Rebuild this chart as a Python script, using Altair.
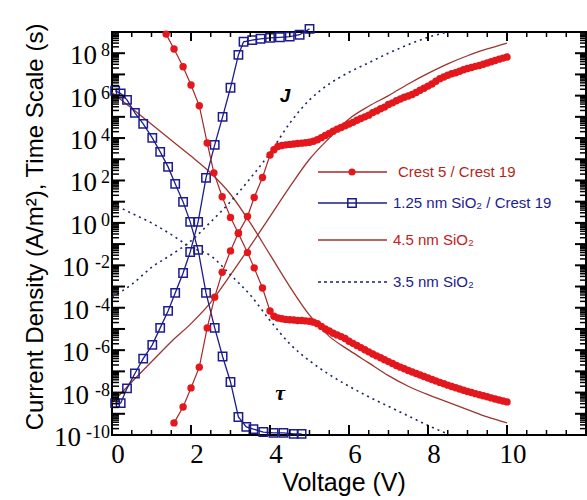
import altair as alt
import pandas as pd

W, H = 474, 403
XDOM = [0, 12]
YDOM = [1e-10, 1e9]

# ---------------- data (log10 values) ----------------
crest_tau_v = [1.37, 1.57, 1.8, 2.0, 2.21, 2.41, 2.58, 2.79, 3.0, 3.2, 3.43, 3.6, 3.81, 4.0,
               4.1, 4.2, 4.3, 4.4, 4.5, 4.6, 4.7, 4.8, 4.9, 5.0, 5.1, 5.2, 5.3, 5.4, 5.5, 5.6,
               5.7, 5.8, 5.9, 6.0, 6.1, 6.2, 6.3, 6.4, 6.5, 6.6, 6.7, 6.8, 6.9, 7.0, 7.1, 7.2,
               7.3, 7.4, 7.5, 7.6, 7.7, 7.8, 7.9, 8.0, 8.1, 8.2, 8.3, 8.4, 8.5, 8.6, 8.7, 8.8,
               8.9, 9.0, 9.1, 9.2, 9.3, 9.4, 9.5, 9.6, 9.7, 9.8, 9.9, 10.0]
crest_tau_log = [8.9, 8.2, 7.36, 6.5, 5.52, 3.77, 2.36, 1.23, 0.26, -0.5, -1.4, -2.12, -3.07, -4.15,
                 -4.4, -4.48, -4.52, -4.55, -4.57, -4.58, -4.6, -4.6, -4.62, -4.64, -4.68, -4.75,
                 -4.88, -5.0, -5.1, -5.2, -5.28, -5.36, -5.45, -5.58, -5.68, -5.78, -5.88, -5.98,
                 -6.08, -6.18, -6.27, -6.36, -6.45, -6.54, -6.63, -6.72, -6.8, -6.88, -6.96, -7.03,
                 -7.1, -7.17, -7.24, -7.31, -7.38, -7.45, -7.52, -7.58, -7.65, -7.71, -7.77, -7.83,
                 -7.89, -7.95, -8.0, -8.05, -8.1, -8.15, -8.2, -8.25, -8.3, -8.35, -8.4, -8.44]

crest_j_v = [1.57, 1.8, 2.0, 2.21, 2.41, 2.6, 2.79, 3.0, 3.2, 3.43, 3.6, 3.81, 4.0,
             4.1, 4.2, 4.3, 4.4, 4.5, 4.6, 4.7, 4.8, 4.9, 5.0, 5.1, 5.2, 5.3, 5.4, 5.5, 5.6,
             5.7, 5.8, 5.9, 6.0, 6.1, 6.2, 6.3, 6.4, 6.5, 6.6, 6.7, 6.8, 6.9, 7.0, 7.1, 7.2,
             7.3, 7.4, 7.5, 7.6, 7.7, 7.8, 7.9, 8.0, 8.1, 8.2, 8.3, 8.4, 8.5, 8.6, 8.7, 8.8,
             8.9, 9.0, 9.1, 9.2, 9.3, 9.4, 9.5, 9.6, 9.7, 9.8, 9.9, 10.0]
crest_j_log = [-9.43, -8.68, -7.78, -6.8, -4.95, -3.5, -2.33, -1.32, -0.47, 0.3, 1.2, 2.14, 3.2,
               3.45, 3.6, 3.65, 3.68, 3.7, 3.72, 3.74, 3.76, 3.78, 3.8, 3.85, 3.92, 4.02, 4.12,
               4.22, 4.32, 4.42, 4.5, 4.58, 4.66, 4.74, 4.84, 4.92, 5.0, 5.08, 5.2, 5.28, 5.38,
               5.46, 5.58, 5.66, 5.76, 5.84, 5.92, 5.98, 6.05, 6.15, 6.25, 6.35, 6.45, 6.55, 6.68,
               6.8, 6.88, 6.96, 7.03, 7.08, 7.15, 7.22, 7.28, 7.33, 7.38, 7.42, 7.48, 7.54, 7.6,
               7.66, 7.72, 7.77, 7.82]

sio125_tau_v = [0.08, 0.22, 0.38, 0.58, 0.79, 1.02, 1.22, 1.42, 1.6, 1.8, 1.98, 2.18, 2.38, 2.6,
                2.8, 3.0, 3.2, 3.4, 3.58, 3.83, 4.09, 4.34, 4.6, 4.8]
sio125_tau_log = [6.23, 6.1, 5.8, 5.19, 4.67, 4.01, 3.35, 2.64, 1.84, 0.99, 0.05, -1.27, -3.3,
                  -4.95, -6.3, -7.5, -9.15, -9.62, -9.72, -9.86, -9.9, -9.9, -9.95, -9.95]

sio125_j_v = [0.08, 0.22, 0.38, 0.58, 0.79, 1.02, 1.22, 1.42, 1.6, 1.8, 1.98, 2.18, 2.38, 2.6,
              2.8, 3.0, 3.2, 3.33, 3.55, 3.76, 4.0, 4.25, 4.5, 4.75, 5.0]
sio125_j_log = [-8.5, -8.5, -7.8, -7.1, -6.4, -5.75, -4.95, -4.15, -3.3, -2.36, -1.37, 0.05, 2.12,
                3.68, 5.0, 6.37, 7.92, 8.54, 8.62, 8.68, 8.72, 8.75, 8.78, 8.87, 9.15]

sio45_v = [0, 0.5, 1.0, 1.5, 2.0, 2.5, 3.0, 3.5, 4.0, 4.5, 5.0, 5.5, 6.0, 6.5, 7.0, 7.5, 8.0,
           8.5, 9.0, 9.5, 10.0]
sio45_tau_log = [6.15, 5.4, 4.65, 3.9, 3.15, 2.35, 1.35, 0.0, -1.5, -3.0, -4.35, -5.35, -6.0,
                 -6.6, -7.2, -7.7, -8.1, -8.45, -8.8, -9.15, -9.43]
sio45_j_log = [-8.5, -7.5, -6.55, -5.6, -4.75, -3.75, -2.45, -1.1, 0.3, 1.7, 3.0, 4.0, 4.9,
               5.5, 6.0, 6.55, 7.05, 7.5, 7.88, 8.2, 8.48]

sio35_v = [0, 0.5, 1.0, 1.5, 2.0, 2.5, 3.0, 3.5, 4.0, 4.5, 5.0, 5.5, 6.0, 6.5, 7.0, 7.5, 8.0, 8.5]
sio35_tau_log = [0.9, 0.45, 0.0, -0.55, -1.15, -1.55, -2.45, -3.4, -4.6, -5.7, -6.5, -7.15,
                 -7.7, -8.2, -8.65, -9.1, -9.55, -9.95]
sio35_j_log = [-3.5, -2.9, -2.1, -1.5, -0.85, 0.05, 1.0, 2.1, 3.3, 4.7, 5.8, 6.55, 7.1, 7.55,
               8.0, 8.4, 8.75, 9.0]

# axis ticks / labels
x_major = [0, 2, 4, 6, 8, 10, 12]
x_minor = [0.5, 1, 1.5, 2.5, 3, 3.5, 4.5, 5, 5.5, 6.5, 7, 7.5, 8.5, 9, 9.5, 10.5, 11, 11.5]
x_labels = [0, 2, 4, 6, 8, 10]
decades = [-10, -9, -8, -7, -6, -5, -4, -3, -2, -1, 0, 1, 2, 3, 4, 5, 6, 7, 8, 9]
minor_mult = [2, 3, 4, 5, 6, 7, 8, 9]
y_label_exp = [-10, -8, -6, -4, -2, 0, 2, 4, 6, 8]

legend_names = ["Crest 5 / Crest 19", "1.25 nm SiO\u2082 / Crest 19", "4.5 nm SiO\u2082", "3.5 nm SiO\u2082"]

# ---------------- tables ----------------
def tab(v, lg, branch):
    return pd.DataFrame({"V": v, "y": [10.0 ** a for a in lg], "branch": branch})

crest = pd.concat([tab(crest_tau_v, crest_tau_log, "tau"), tab(crest_j_v, crest_j_log, "J")])
s125 = pd.concat([tab(sio125_tau_v, sio125_tau_log, "tau"), tab(sio125_j_v, sio125_j_log, "J")])
s45 = pd.concat([tab(sio45_v, sio45_tau_log, "tau"), tab(sio45_v, sio45_j_log, "J")])
s35 = pd.concat([tab(sio35_v, sio35_tau_log, "tau"), tab(sio35_v, sio35_j_log, "J")])

xs = alt.Scale(domain=XDOM, nice=False, zero=False)
ys = alt.Scale(type="log", domain=YDOM, nice=False)
X = alt.X("V:Q", scale=xs, axis=None)
Y = alt.Y("y:Q", scale=ys, axis=None)

RED = "#e3171c"
REDLINE = "#a52828"
BROWN = "#9c3530"
NAVY = "#1c1c8e"
DOT = "#1a2466"

l45 = alt.Chart(s45).mark_line(color=BROWN, strokeWidth=1.3, interpolate="monotone").encode(
    x=X, y=Y, detail="branch:N")
l35 = alt.Chart(s35).mark_line(color=DOT, strokeWidth=1.6, strokeDash=[2, 4],
                               interpolate="monotone").encode(x=X, y=Y, detail="branch:N")
l125 = alt.Chart(s125).mark_line(color=NAVY, strokeWidth=1.3).encode(x=X, y=Y, detail="branch:N")
p125 = alt.Chart(s125).mark_point(shape="square", filled=False, size=70, color=NAVY,
                                  strokeWidth=1.5, opacity=1).encode(x=X, y=Y)
lcr = alt.Chart(crest).mark_line(color=REDLINE, strokeWidth=1.2).encode(x=X, y=Y, detail="branch:N")
pcr = alt.Chart(crest).mark_circle(color=RED, size=55, opacity=1).encode(x=X, y=Y)

# ticks
xmaj = pd.DataFrame({"V": x_major})
xmin = pd.DataFrame({"V": x_minor})
ymaj = pd.DataFrame({"y": [10.0 ** d for d in decades]})
ymin = pd.DataFrame({"y": [m * 10.0 ** d for d in decades[:-1] for m in minor_mult]})

def xt(df, y0, y1, w):
    return alt.Chart(df).mark_rule(color="black", strokeWidth=w).encode(
        x=X, y=alt.value(y0), y2=alt.value(y1))

def yt(df, x0, x1, w):
    return alt.Chart(df).mark_rule(color="black", strokeWidth=w).encode(
        y=Y, x=alt.value(x0), x2=alt.value(x1))

ticks = [
    xt(xmaj, H, H - 10, 2), xt(xmin, H, H - 5, 1.5),
    xt(xmaj, 0, 9, 2), xt(xmin, 0, 5, 1.5),
    yt(ymaj, 0, 13, 2), yt(ymin, 0, 7, 1.5),
    yt(ymaj, W, W - 11, 2), yt(ymin, W, W - 6, 1.5),
]

# tick labels
ylab = pd.DataFrame({"y": [10.0 ** e for e in y_label_exp], "e": [str(e) for e in y_label_exp],
                     "n": [len(str(e)) for e in y_label_exp]})
SERIF = "Liberation Serif"
ylab_layers = []
for n, xpos in [(1, -15), (2, -23), (3, -31)]:
    ylab_layers.append(
        alt.Chart(ylab).transform_filter(alt.datum.n == n).mark_text(
            font=SERIF, fontSize=27, align="right", baseline="middle", dy=3, color="black"
        ).encode(y=Y, x=alt.value(xpos), text=alt.value("10")))
ylab_layers.append(
    alt.Chart(ylab).mark_text(font=SERIF, fontSize=18, align="right", baseline="top", dy=-11,
                              color="black").encode(y=Y, x=alt.value(-2), text="e:N"))

xlab = pd.DataFrame({"V": x_labels, "t": [str(v) for v in x_labels]})
xlab_layer = alt.Chart(xlab).mark_text(font=SERIF, fontSize=27, align="center",
                                       baseline="alphabetic", dx=6, color="black").encode(
    x=X, y=alt.value(431), text="t:N")

one = pd.DataFrame({"a": [0]})
SANS = "Liberation Sans"
ytitle = alt.Chart(one).mark_text(font=SANS, fontSize=24, angle=270, align="center",
                                  baseline="alphabetic", color="black").encode(
    x=alt.value(-69), y=alt.value(195), text=alt.value("Current Density (A/m\u00b2), Time Scale (s)"))
xtitle = alt.Chart(one).mark_text(font=SANS, fontSize=25, align="center", baseline="alphabetic",
                                  color="black").encode(
    x=alt.value(232), y=alt.value(459), text=alt.value("Voltage (V)"))

jlab = alt.Chart(one).mark_text(font=SANS, fontSize=19, fontStyle="italic", fontWeight="bold",
                                color="black").encode(x=alt.value(173), y=alt.value(64),
                                                      text=alt.value("J"))
taulab = alt.Chart(one).mark_text(font=SERIF, fontSize=22, fontStyle="italic", fontWeight="bold",
                                  color="black").encode(x=alt.value(168), y=alt.value(361),
                                                        text=alt.value("\u03c4"))

# legend (inside plot)
LX0, LX1, LM, LT = 206, 275, 240, 281
leg = []
rows = [(140, REDLINE, None, "circle", RED), (171, NAVY, None, "square", NAVY),
        (208, BROWN, None, None, "#c22020"), (250, DOT, [3, 3], None, NAVY)]
text_cols = ["#b51f1c", NAVY, "#c22020", NAVY]
for i, (yy, lc, dash, mk, mc) in enumerate(rows):
    kw = dict(color=lc, strokeWidth=1.3 if dash is None else 1.6)
    if dash:
        kw["strokeDash"] = dash
    leg.append(alt.Chart(one).mark_rule(**kw).encode(
        x=alt.value(LX0), x2=alt.value(LX1 + (3 if dash else 0)), y=alt.value(yy)))
    if mk == "circle":
        leg.append(alt.Chart(one).mark_circle(color=mc, size=50, opacity=1).encode(
            x=alt.value(LM), y=alt.value(yy)))
    elif mk == "square":
        leg.append(alt.Chart(one).mark_point(shape="square", filled=False, size=70, color=mc,
                                             strokeWidth=1.5, opacity=1).encode(
            x=alt.value(LM), y=alt.value(yy)))
    leg.append(alt.Chart(one).mark_text(font=SANS, fontSize=15, align="left", baseline="middle",
                                        color=text_cols[i]).encode(
        x=alt.value(LT + (5 if i == 0 else 0)), y=alt.value(yy), text=alt.value(legend_names[i])))

chart = alt.layer(
    l45, l35, l125, p125, lcr, pcr, *ticks, *ylab_layers, xlab_layer, ytitle, xtitle,
    jlab, taulab, *leg
).properties(
    width=W, height=H,
    padding={"left": 112, "top": 32, "right": 1, "bottom": 65},
    autosize=alt.AutoSizeParams(type="none"),
    background="white",
).configure_view(stroke="black", strokeWidth=2)

chart.save("out.html", embed_options={"renderer": "svg", "actions": False})
